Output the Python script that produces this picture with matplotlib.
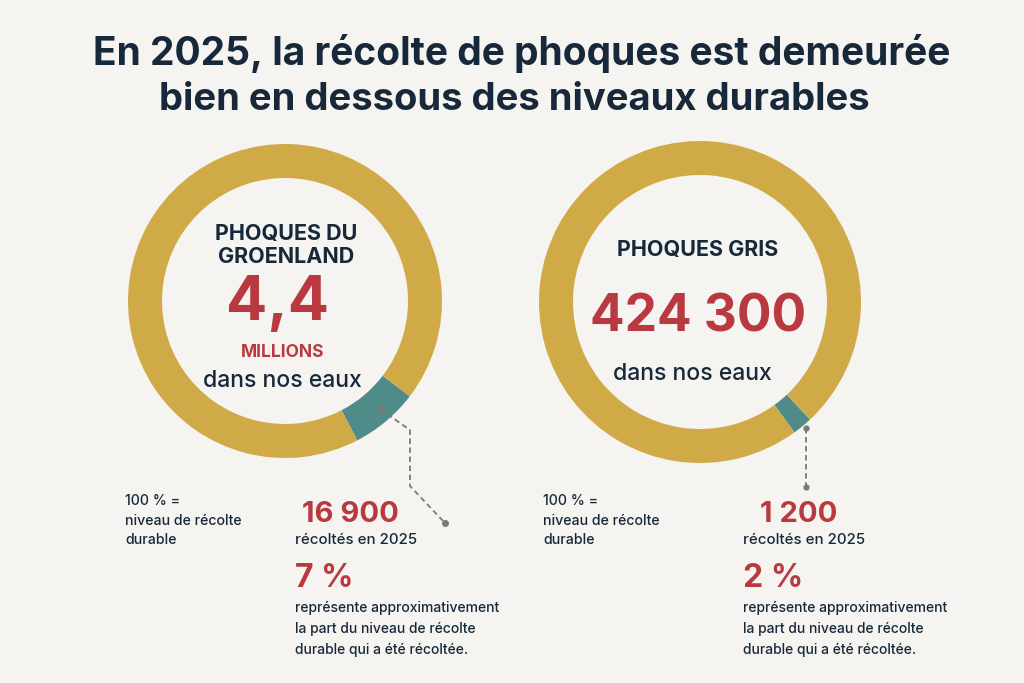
import matplotlib.pyplot as plt

# couleurs
fond = '#f6f4f0'
or_ = '#d1aa48'
sarcelle = '#4f8c89'
rouge = '#b8393f'
encre = '#16283a'
gris = '#7a7a7a'

# donnees
titre = ["En 2025, la récolte de phoques est demeurée",
         "bien en dessous des niveaux durables"]
especes = ["PHOQUES DU\nGROENLAND", "PHOQUES GRIS"]
populations = ["4,4", "424 300"]
recoltes = ["16 900", "1 200"]
parts = [7, 2]  # % du niveau de recolte durable

plt.rcParams['font.family'] = ['Inter', 'DejaVu Sans']

fig = plt.figure(figsize=(10.24, 6.83), dpi=100, facecolor=fond)
ax = fig.add_axes([0, 0, 1, 1])
ax.set_facecolor(fond)

# anneaux (axe y inverse => angle positif = vers le bas a l'ecran)
centres = [(285, 301), (700, 302)]
rayons = [157, 161]
milieux = [50, 50.5]
for (cx, cy), r, p, m in zip(centres, rayons, parts, milieux):
    ax.pie([p, 100 - p], colors=[sarcelle, or_], startangle=m - p * 1.8,
           center=(cx, cy), radius=r,
           wedgeprops=dict(width=34, linewidth=0))

ax.set_xlim(0, 1024)
ax.set_ylim(683, 0)
ax.set_aspect('equal')
ax.axis('off')

# titre
ax.text(522, 65, titre[0], ha='center', va='baseline', fontsize=28,
        fontweight='bold', color=encre)
ax.text(514, 110, titre[1], ha='center', va='baseline', fontsize=27.5,
        fontweight='bold', color=encre)

# texte dans l'anneau de gauche
ax.text(286, 263, especes[0], ha='center', va='baseline', fontsize=15.5,
        fontweight='bold', color=encre, linespacing=1.2)
ax.text(278, 320, populations[0], ha='center', va='baseline', fontsize=44,
        fontweight='bold', color=rouge)
ax.text(283, 357, "MILLIONS", ha='center', va='baseline', fontsize=12.5,
        fontweight='bold', color=rouge)
ax.text(282, 387, "dans nos eaux", ha='center', va='baseline', fontsize=16.5,
        fontweight='medium', color=encre)

# texte dans l'anneau de droite
ax.text(698, 256, especes[1], ha='center', va='baseline', fontsize=15.5,
        fontweight='bold', color=encre)
ax.text(698, 332, populations[1], ha='center', va='baseline', fontsize=37,
        fontweight='bold', color=rouge)
ax.text(692, 380, "dans nos eaux", ha='center', va='baseline', fontsize=16.5,
        fontweight='medium', color=encre)

# lignes de rappel
ax.plot([380, 410, 410, 445], [409, 430, 486, 523], ls=(0, (3, 2)),
        color=gris, lw=1.3)
ax.plot([380, 445], [409, 523], 'o', color=gris, ms=4)
ax.plot([806, 806], [428, 487], ls=(0, (3, 2)), color=gris, lw=1.3)
ax.plot([806, 806], [428, 487], 'o', color=gris, ms=3.5)

# textes du bas
for x0, xr, xn, rec, p in [(125, 295, 350, recoltes[0], parts[0]),
                           (543, 743, 799, recoltes[1], parts[1])]:
    ax.text(x0, 505, "100 % =", ha='left', va='baseline', fontsize=10.2,
            fontweight='medium', color=encre)
    ax.text(x0, 525, "niveau de récolte", ha='left', va='baseline',
            fontsize=10.2, fontweight='medium', color=encre)
    ax.text(x0, 544, "durable", ha='left', va='baseline', fontsize=10.2,
            fontweight='medium', color=encre)
    ax.text(xn, 522, rec, ha='center', va='baseline', fontsize=21,
            fontweight='bold', color=rouge)
    ax.text(xr, 544, "récoltés en 2025", ha='left', va='baseline',
            fontsize=10.8, fontweight='medium', color=encre)
    ax.text(xr, 587, f"{p} %", ha='left', va='baseline', fontsize=23,
            fontweight='bold', color=rouge)
    for i, ligne in enumerate(["représente approximativement",
                               "la part du niveau de récolte",
                               "durable qui a été récoltée."]):
        ax.text(xr, 612 + 21 * i, ligne, ha='left', va='baseline',
                fontsize=10, fontweight='medium', color=encre)

fig.savefig('out.png', dpi=100, facecolor=fond)
